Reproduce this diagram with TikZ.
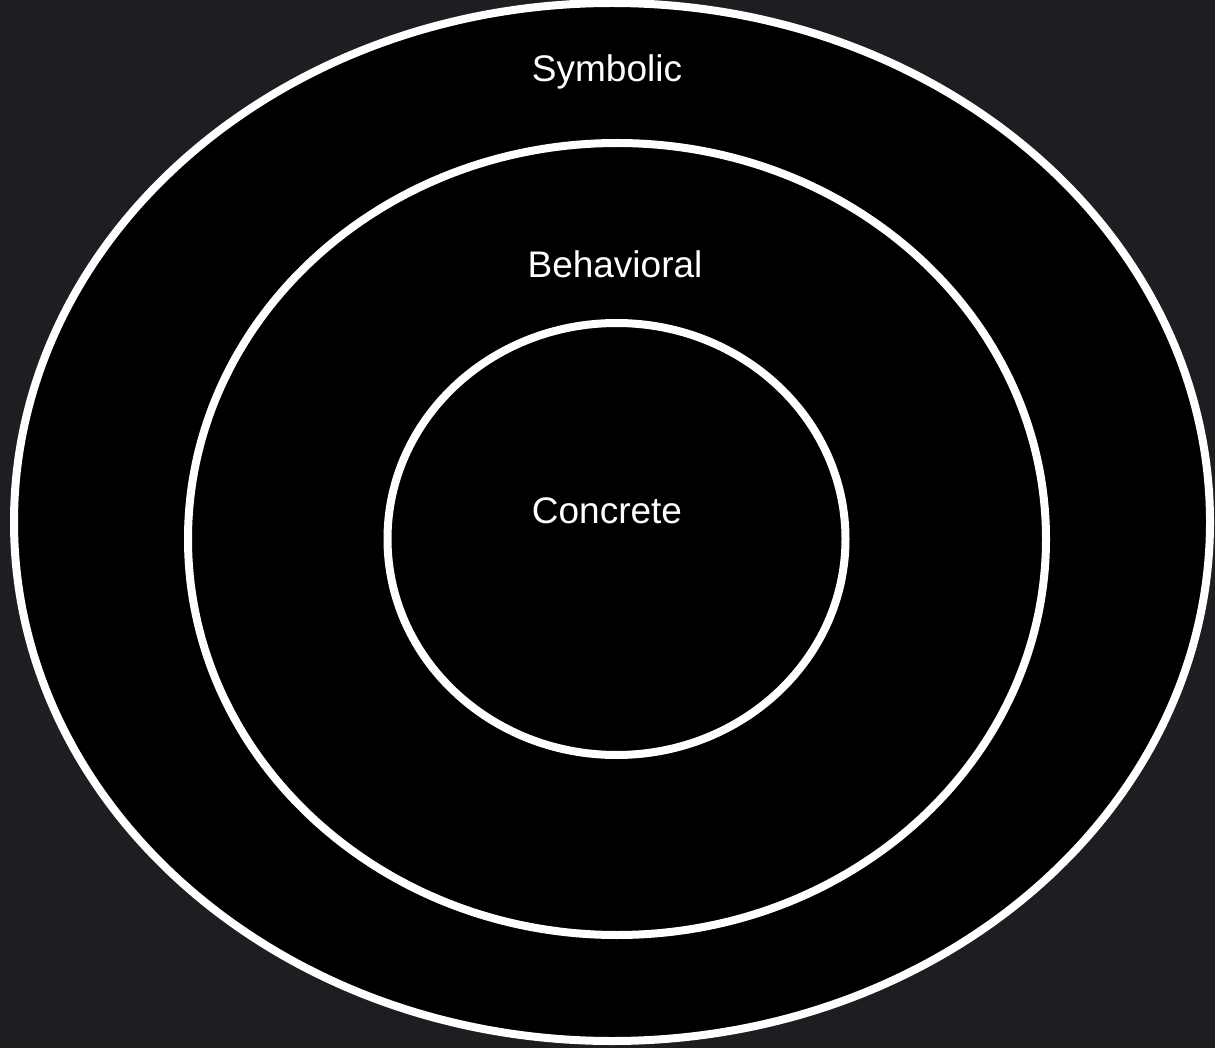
\documentclass[tikz,border=0pt]{standalone}
\usepackage{fontspec}
\setmainfont{Liberation Sans}
\definecolor{slate}{RGB}{30,30,34}
\begin{document}
\begin{tikzpicture}[x=1pt,y=-1pt]
\useasboundingbox (0,0) rectangle (1215,1048);
\clip (0,0) rectangle (1215,1048);
\fill[slate] (0,0) rectangle (1215,1048);
\filldraw[fill=black,draw=white,line width=8pt] (612,522) ellipse [x radius=598,y radius=519];
\filldraw[fill=black,draw=white,line width=8pt] (617,539) ellipse [x radius=429,y radius=396];
\filldraw[fill=black,draw=white,line width=8pt] (616.5,539) ellipse [x radius=229,y radius=216];
\node[text=white,font=\fontsize{37}{44}\selectfont] (symbolic) at (607,72) {Symbolic};
\node[text=white,font=\fontsize{37}{44}\selectfont] (behavioral) at (615,264) {Behavioral};
\node[text=white,font=\fontsize{37}{44}\selectfont] (concrete) at (607,511) {Concrete};
\end{tikzpicture}
\end{document}
